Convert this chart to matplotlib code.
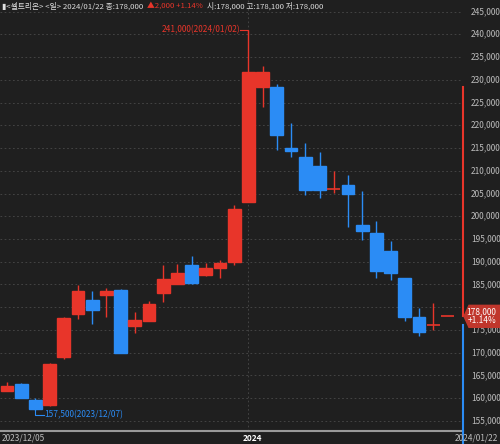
import matplotlib
matplotlib.use("Agg")
import matplotlib.pyplot as plt
from matplotlib.patches import Rectangle, Polygon

plt.rcParams['font.family'] = ['Noto Sans CJK KR', 'DejaVu Sans']

dates = ["2023/12/05","12/06","2023/12/07","12/08","12/11","12/12","12/13","12/14","12/15","12/18","12/19",
         "12/20","12/21","12/22","12/26","12/27","12/28","2024/01/02","01/03","01/04","01/05","01/08",
         "01/09","01/10","01/11","01/12","01/15","01/16","01/17","01/18","01/19","2024/01/22"]
opens  = [161.6,163.1,159.6,158.6,169.0,178.5,181.6,182.7,183.8,175.9,177.0,183.1,185.0,189.3,187.1,188.7,
          190.0,203.2,228.4,228.4,215.0,213.0,211.0,206.0,206.9,198.1,196.4,192.4,186.5,177.9,176.0,178.0]
highs  = [163.6,163.3,160.0,167.8,177.9,184.9,183.6,184.3,184.0,178.9,181.4,189.3,189.5,191.3,189.7,190.4,
          202.5,241.0,233.0,229.0,220.4,216.0,214.1,209.9,209.1,205.6,199.0,194.5,186.5,179.8,180.9,178.1]
lows   = [161.5,160.0,157.5,158.4,168.6,177.4,176.3,177.8,169.9,174.3,177.0,181.1,185.0,185.1,186.9,186.4,
          189.3,203.2,224.1,214.6,213.0,204.6,204.1,205.1,197.7,194.7,186.4,186.0,177.0,173.7,175.0,178.0]
closes = [162.7,160.1,157.6,167.6,177.7,183.5,179.5,183.5,169.9,177.2,180.7,186.2,187.6,185.4,188.7,189.7,
          201.5,231.6,231.6,217.9,214.4,205.8,205.8,206.0,204.8,196.8,188.0,187.5,177.9,174.6,176.0,178.0]
yticks = list(range(155, 246, 5))

BG = '#1f1f1f'; RED = '#e8352a'; BLUE = '#2b8cf5'; GRID = '#4a4a4a'; TXT = '#bdbdbd'

fig = plt.figure(figsize=(5, 4.44), dpi=100, facecolor=BG)
W, H = 500, 444
ax = fig.add_axes([0, (H-431)/H, 463/W, 431/H], facecolor=BG)
ax.set_xlim(-0.49, 32.1)
ax.set_ylim(152.8, 247.53)
for y in yticks:
    ax.axhline(y, color=GRID, lw=0.6, ls=(0, (2, 3)), zorder=0)
ax.axvline(17, color=GRID, lw=0.6, ls=(0, (2, 3)), zorder=0)

for i, (o, h, l, c) in enumerate(zip(opens, highs, lows, closes)):
    col = RED if c >= o else BLUE
    ax.vlines(i, l, h, color=col, lw=1, zorder=2)
    b, t = min(o, c), max(o, c)
    if t - b < 0.25:
        ax.hlines(o, i-0.45, i+0.45, color=col, lw=1.2, zorder=3)
    else:
        ax.add_patch(Rectangle((i-0.45, b), 0.9, t-b, color=col, zorder=3))

for s in ['top', 'left', 'right']:
    ax.spines[s].set_visible(False)
ax.spines['bottom'].set_color('#9a9a9a')
ax.spines['bottom'].set_linewidth(1.5)
ax.set_yticks([]); ax.set_xticks([])

imax = highs.index(max(highs)); imin = lows.index(min(lows))
ax.plot([imax-0.6, imax, imax], [max(highs), max(highs), max(highs)-1], color=RED, lw=0.8)
ax.text(imax-0.6, max(highs), f"{max(highs)*1000:,.0f}({dates[imax]})", color=RED, fontsize=6,
        ha='right', va='center')
ax.plot([imin, imin, imin+0.6], [min(lows), min(lows)-1.1, min(lows)-1.1], color=BLUE, lw=0.8)
ax.text(imin+0.6, min(lows)-1.1, f"{min(lows)*1000:,.0f}({dates[imin]})", color=BLUE, fontsize=6,
        ha='left', va='center')

def fy(v):
    return ax.transData.transform((0, v))[1] / H

yl = fy(closes[-1])
for y in yticks:
    if abs(fy(y) - yl) * H < 10:
        continue
    fig.text(471/W, fy(y), f"{y*1000:,}", color=TXT, fontsize=6, ha='left', va='center')
fig.add_artist(plt.Line2D([463/W, 463/W], [fy(228.5), fy(178.0)], color=RED, lw=1.5, transform=fig.transFigure))
fig.add_artist(plt.Line2D([463/W, 463/W], [fy(176), 0], color=BLUE, lw=1.5, transform=fig.transFigure))
fig.add_artist(Polygon([[464/W, yl], [469/W, yl+11/H], [500/W, yl+11/H], [500/W, yl-11/H], [469/W, yl-11/H]],
                       closed=True, color='#c0362c', transform=fig.transFigure, zorder=5))
fig.text(496/W, yl+4.5/H, f"{closes[-1]*1000:,.0f}", color='white', fontsize=6, ha='right', va='center', zorder=6)
fig.text(496/W, yl-4.5/H, "+1.14%", color='white', fontsize=6, ha='right', va='center', zorder=6)

fig.text(2/W, 6/H, dates[0], color=TXT, fontsize=6, ha='left', va='center')
fig.text(243/W, 6/H, "2024", color='white', fontsize=6, fontweight='bold', ha='left', va='center')
fig.text(498/W, 6/H, dates[-1], color=TXT, fontsize=6, ha='right', va='center')

# header, laid out sequentially
fig.canvas.draw()
r = fig.canvas.get_renderer()
x = 2
for s, col in [("▮<셀트리온> <일> 2024/01/22 종:178,000", '#dddddd'), ("▲2,000 +1.14%", RED),
               ("시:178,000 고:178,100 저:178,000", '#dddddd')]:
    t = fig.text(x/W, 1-6/H, s, color=col, fontsize=5.6, ha='left', va='center')
    x += t.get_window_extent(r).width + 4

fig.savefig("out.png", dpi=100, facecolor=BG)
